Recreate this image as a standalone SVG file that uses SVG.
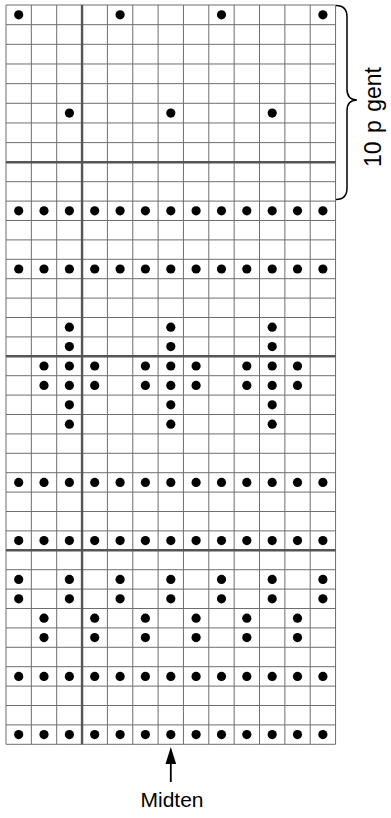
<svg xmlns="http://www.w3.org/2000/svg" width="391" height="818" viewBox="0 0 391 818">
<style>
.g{stroke:#6e6e6e;stroke-width:1;fill:none}
.t{stroke:#555;stroke-width:2.4;fill:none}
.d{fill:#000}
.lbl{font-family:"Liberation Sans",Arial,sans-serif;font-size:21px;fill:#000}
</style>
<defs><circle id="dot" r="4.6" class="d"/></defs>
<rect x="0" y="0" width="391" height="818" fill="#fff"/>
<g id="grid">
<path class="g" d="M6,5V744.3M31.35,5V744.3M56.7,5V744.3M107.4,5V744.3M132.75,5V744.3M158.1,5V744.3M183.45,5V744.3M208.8,5V744.3M234.15,5V744.3M259.5,5V744.3M284.85,5V744.3M310.2,5V744.3M335.55,5V744.3"/>
<path class="g" d="M6,5H335.55M6,24.66H335.55M6,44.32H335.55M6,63.98H335.55M6,83.64H335.55M6,103.3H335.55M6,122.96H335.55M6,142.62H335.55M6,181.7H335.55M6,201.1H335.55M6,220.5H335.55M6,239.9H335.55M6,259.3H335.55M6,278.7H335.55M6,298.1H335.55M6,317.5H335.55M6,336.9H335.55M6,375.7H335.55M6,395.1H335.55M6,414.5H335.55M6,433.9H335.55M6,453.3H335.55M6,472.7H335.55M6,492.1H335.55M6,511.5H335.55M6,530.9H335.55M6,569.7H335.55M6,589.1H335.55M6,608.5H335.55M6,627.9H335.55M6,647.3H335.55M6,666.7H335.55M6,686.1H335.55M6,705.5H335.55M6,724.9H335.55M6,744.3H335.55"/>
<path class="t" d="M82.05,5V744.3M6,162.3H335.55M6,356.3H335.55M6,550.3H335.55"/>
</g>
<g id="dots">
<use href="#dot" x="18.7" y="14.8"/><use href="#dot" x="120.1" y="14.8"/><use href="#dot" x="221.5" y="14.8"/><use href="#dot" x="322.9" y="14.8"/>
<use href="#dot" x="69.4" y="113.1"/><use href="#dot" x="170.8" y="113.1"/><use href="#dot" x="272.2" y="113.1"/>
<g id="full11" transform="translate(0,210.8)">
<use href="#dot" x="18.7"/><use href="#dot" x="44"/><use href="#dot" x="69.4"/><use href="#dot" x="94.7"/><use href="#dot" x="120.1"/><use href="#dot" x="145.4"/><use href="#dot" x="170.8"/><use href="#dot" x="196.1"/><use href="#dot" x="221.5"/><use href="#dot" x="246.8"/><use href="#dot" x="272.2"/><use href="#dot" x="297.5"/><use href="#dot" x="322.9"/>
</g>
<use href="#full11" y="58.2"/>
<use href="#full11" y="271.6"/>
<use href="#full11" y="329.8"/>
<use href="#full11" y="465.6"/>
<use href="#full11" y="523.8"/>
<g id="c3711" transform="translate(0,327.2)">
<use href="#dot" x="69.4"/><use href="#dot" x="170.8"/><use href="#dot" x="272.2"/>
</g>
<use href="#c3711" y="19.4"/>
<use href="#c3711" y="77.6"/>
<use href="#c3711" y="97"/>
<g id="cross" transform="translate(0,366)">
<use href="#dot" x="44"/><use href="#dot" x="69.4"/><use href="#dot" x="94.7"/><use href="#dot" x="145.4"/><use href="#dot" x="170.8"/><use href="#dot" x="196.1"/><use href="#dot" x="246.8"/><use href="#dot" x="272.2"/><use href="#dot" x="297.5"/>
</g>
<use href="#cross" y="19.4"/>
<g id="odd" transform="translate(0,579.4)">
<use href="#dot" x="18.7"/><use href="#dot" x="69.4"/><use href="#dot" x="120.1"/><use href="#dot" x="170.8"/><use href="#dot" x="221.5"/><use href="#dot" x="272.2"/><use href="#dot" x="322.9"/>
</g>
<use href="#odd" y="19.4"/>
<g id="even" transform="translate(0,618.2)">
<use href="#dot" x="44"/><use href="#dot" x="94.7"/><use href="#dot" x="145.4"/><use href="#dot" x="196.1"/><use href="#dot" x="246.8"/><use href="#dot" x="297.5"/>
</g>
<use href="#even" y="19.4"/>
</g>
<g id="brace">
<path d="M336,5.5Q347,5.5 347,17L347,89Q347,100 357,100Q347,100 347,111L347,188Q347,199.5 336,199.5" fill="none" stroke="#000" stroke-width="1.5"/>
<text class="lbl" transform="translate(381,117) rotate(-90)" text-anchor="middle" style="font-size:23px;word-spacing:2px">10 p gent</text>
</g>
<g id="midten">
<line x1="170.8" y1="782" x2="170.8" y2="760" stroke="#000" stroke-width="1.8"/>
<polygon points="170.8,747 165.5,764 176.1,764" fill="#000"/>
<text class="lbl" x="172" y="807" text-anchor="middle">Midten</text>
</g>
</svg>
